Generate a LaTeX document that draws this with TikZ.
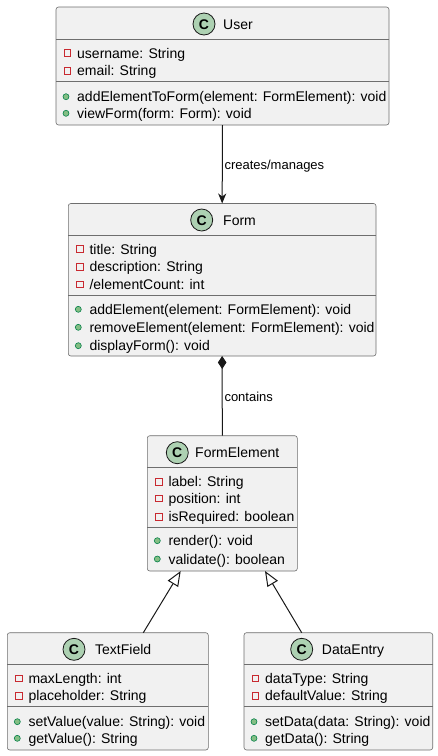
\documentclass[tikz,border=0pt]{standalone}
\usepackage{fontspec}
\setmainfont{Liberation Sans}
\usetikzlibrary{arrows.meta,calc}

\definecolor{boxfill}{HTML}{F1F1F1}
\definecolor{boxline}{HTML}{181818}
\definecolor{frameline}{HTML}{6E6E6E}
\definecolor{spotfill}{HTML}{ADD1B2}
\definecolor{privred}{HTML}{C82930}
\definecolor{pubfill}{HTML}{84BE84}
\definecolor{publine}{HTML}{038048}

\tikzset{
  classbox/.style={draw=frameline, fill=boxfill, line width=0.6pt, rounded corners=2.5pt,
    anchor=north west, inner sep=0pt, outer sep=0pt},
  sepline/.style={draw=frameline, line width=0.6pt},
  spot/.style={draw=boxline, fill=spotfill, line width=0.8pt},
  privicon/.style={draw=privred, line width=0.8pt},
  pubicon/.style={draw=publine, fill=pubfill, line width=0.6pt},
  member/.style={anchor=base west, inner sep=0pt, font=\fontsize{14}{16}\selectfont},
  classname/.style={anchor=base west, inner sep=0pt, font=\fontsize{14}{16}\selectfont},
  edgelabel/.style={anchor=base west, inner sep=0pt, font=\fontsize{13}{15}\selectfont},
  edge/.style={draw=boxline, line width=1pt},
  assoc/.style={edge, -{Stealth[length=10pt, width=8pt, inset=3pt]}},
  compose/.style={edge, -{Diamond[length=13pt, width=8.6pt]}},
  inherit/.style={edge, -{Triangle[open, length=15pt, width=12pt, fill=white]}},
}

% one private attribute row: left edge of box, row centre, text
\newcommand\privrow[3]{%
  \draw[privicon] (#1+8.2,#2-3.2) rectangle ++(6.4,6.4);
  \node[member] at (#1+21,#2+5) {#3};}
% one public method row
\newcommand\pubrow[3]{%
  \filldraw[pubicon] (#1+10,#2) circle (3pt);
  \node[member] at (#1+21,#2+5) {#3};}
% class header: spot centre x, header centre y, name x, name
\newcommand\classhead[4]{%
  \filldraw[spot] (#1,#2) circle (11pt);
  \node[inner sep=0pt, font=\fontsize{14}{14}\selectfont\bfseries] at (#1,#2+0.3) {C};
  \node[classname] at (#3,#2+5) {#4};}
% separators: left, right, y
\newcommand\sepat[3]{\draw[sepline] (#1,#3) -- (#2,#3);}

\begin{document}
\begin{tikzpicture}[x=1pt, y=-1pt]
\useasboundingbox (0,0) rectangle (437,756);

% ---------- User ----------
\node[classbox, minimum width=333pt, minimum height=118pt] (user) at (56,7) {};
\classhead{204}{24}{223}{User}
\sepat{56}{389}{39.3}
\privrow{56}{53}{username: String}
\privrow{56}{70.7}{email: String}
\sepat{56}{389}{81.7}
\pubrow{56}{96.7}{addElementToForm(element: FormElement): void}
\pubrow{56}{113.3}{viewForm(form: Form): void}

% ---------- Form ----------
\node[classbox, minimum width=307.7pt, minimum height=152.5pt] (form) at (68.3,203.5) {};
\classhead{201.7}{220}{223}{Form}
\sepat{68.3}{376}{235.7}
\privrow{68.3}{249}{title: String}
\privrow{68.3}{266.7}{description: String}
\privrow{68.3}{284.3}{/elementCount: int}
\sepat{68.3}{376}{295}
\pubrow{68.3}{309.3}{addElement(element: FormElement): void}
\pubrow{68.3}{327.3}{removeElement(element: FormElement): void}
\pubrow{68.3}{345.7}{displayForm(): void}

% ---------- FormElement ----------
\node[classbox, minimum width=150pt, minimum height=135.3pt] (fe) at (147.3,435.7) {};
\classhead{177.3}{452.7}{195}{FormElement}
\sepat{147.3}{297.3}{467.3}
\privrow{147.3}{481.7}{label: String}
\privrow{147.3}{498.3}{position: int}
\privrow{147.3}{516.7}{isRequired: boolean}
\sepat{147.3}{297.3}{527.7}
\pubrow{147.3}{540.7}{render(): void}
\pubrow{147.3}{559}{validate(): boolean}

% ---------- TextField ----------
\node[classbox, minimum width=201pt, minimum height=117.3pt] (tf) at (7.3,632.7) {};
\classhead{74}{649.3}{95}{TextField}
\sepat{7.3}{208.3}{664.3}
\privrow{7.3}{678.3}{maxLength: int}
\privrow{7.3}{695.7}{placeholder: String}
\sepat{7.3}{208.3}{706.7}
\pubrow{7.3}{721.7}{setValue(value: String): void}
\pubrow{7.3}{738.3}{getValue(): String}

% ---------- DataEntry ----------
\node[classbox, minimum width=188.7pt, minimum height=117.3pt] (de) at (244,632.7) {};
\classhead{301.7}{649.3}{321.7}{DataEntry}
\sepat{244}{432.7}{664.3}
\privrow{244}{678.3}{dataType: String}
\privrow{244}{695.7}{defaultValue: String}
\sepat{244}{432.7}{706.7}
\pubrow{244}{721.7}{setData(data: String): void}
\pubrow{244}{738.3}{getData(): String}

% ---------- relations ----------
\draw[assoc] (user.south) -- (form.north);
\node[edgelabel] (lblmanage) at (224.3,169) {creates/manages};

\draw[compose] (fe.north) -- (form.south);
\node[edgelabel] (lblcontains) at (224.3,401.3) {contains};

\draw[inherit] ([xshift=136pt]tf.north west) -- ([xshift=33.4pt]fe.south west);
\draw[inherit] ([xshift=57.7pt]de.north west) -- ([xshift=117.7pt]fe.south west);
\end{tikzpicture}
\end{document}
